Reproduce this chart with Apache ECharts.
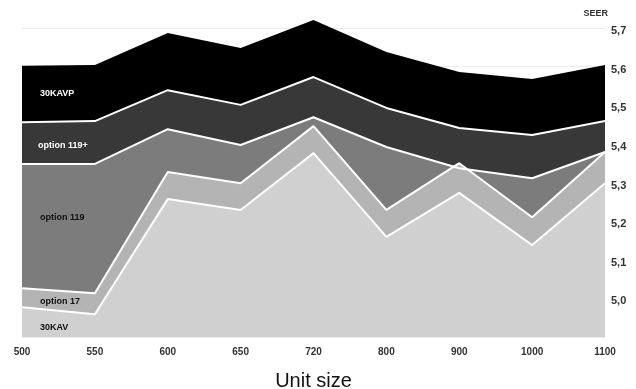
<!DOCTYPE html>
<html>
<head>
<meta charset="utf-8">
<script src="https://cdn.jsdelivr.net/npm/echarts@6/dist/echarts.min.js"></script>
<style>html,body{margin:0;padding:0;background:#fff}#c{width:636px;height:389px}</style>
</head>
<body>
<div id="c"></div>
<script>
// Unit sizes (x categories)
var categories = ['500','550','600','650','720','800','900','1000','1100'];
// Upper boundary (SEER) of each layer
var kav      = [4.977, 4.959, 5.257, 5.229, 5.376, 5.159, 5.273, 5.138, 5.298];
var opt17    = [5.026, 5.013, 5.327, 5.298, 5.446, 5.229, 5.350, 5.210, 5.379];
var opt119   = [5.348, 5.348, 5.438, 5.397, 5.469, 5.392, 5.337, 5.311, 5.379];
var opt119p  = [5.456, 5.459, 5.539, 5.501, 5.573, 5.493, 5.441, 5.423, 5.459];
var kavp     = [5.602, 5.604, 5.687, 5.648, 5.721, 5.638, 5.586, 5.568, 5.604];
var yTicks = [5.0, 5.1, 5.2, 5.3, 5.4, 5.5, 5.6, 5.7];

var FONT = '"Liberation Sans", Arial, sans-serif';
function layer(name, data, color, lineW) {
  return {
    name: name, type: 'line', data: data, symbol: 'none', smooth: false, clip: false,
    lineStyle: { color: '#ffffff', width: lineW },
    areaStyle: { color: color, opacity: 1 },
    emphasis: { disabled: true }
  };
}
var chart = echarts.init(document.getElementById('c'), null, { renderer: 'canvas' });
chart.setOption({
  animation: false,
  textStyle: { fontFamily: FONT },
  grid: { left: 22, right: 31, top: 28, bottom: 52, containLabel: false, outerBoundsMode: 'none' },
  xAxis: {
    type: 'category', data: categories, boundaryGap: false,
    name: 'Unit size', nameLocation: 'middle', nameGap: 34,
    nameTextStyle: { fontSize: 20, color: '#111', fontFamily: FONT },
    axisLine: { show: false }, axisTick: { show: false },
    axisLabel: { fontSize: 10, fontWeight: 'bold', color: '#333', margin: 10, fontFamily: FONT },
    splitLine: { show: false }
  },
  yAxis: {
    type: 'value', position: 'right', min: 4.9, max: 5.7, interval: 0.1,
    name: 'SEER', nameLocation: 'end', nameGap: 10,
    nameTextStyle: { fontSize: 9, fontWeight: 'bold', color: '#333', align: 'right', padding: [0, -3, 0, 0], fontFamily: FONT },
    axisLine: { show: false }, axisTick: { show: false },
    axisLabel: {
      fontSize: 11, fontWeight: 'bold', color: '#333', margin: 6, fontFamily: FONT,
      verticalAlign: 'top', lineHeight: 6,
      formatter: function (v) {
        for (var i = 0; i < yTicks.length; i++) {
          if (Math.abs(yTicks[i] - v) < 1e-6) return yTicks[i].toFixed(1).replace('.', ',');
        }
        return '';
      }
    },
    splitLine: { show: true, lineStyle: { color: '#ececec', width: 1 } }
  },
  series: [
    layer('30KAVP', kavp, '#000000', 0),
    layer('option 119+', opt119p, '#383838', 2),
    layer('option 119', opt119, '#7c7c7c', 2),
    layer('option 17', opt17, '#b4b4b4', 2),
    layer('30KAV', kav, '#d0d0d0', 2)
  ],
  graphic: [
    { type: 'text', z: 100, left: 40, top: 89, style: { text: '30KAVP', fill: '#fff', font: 'bold 9px ' + FONT } },
    { type: 'text', z: 100, left: 38, top: 141, style: { text: 'option 119+', fill: '#fff', font: 'bold 9px ' + FONT } },
    { type: 'text', z: 100, left: 40, top: 213, style: { text: 'option 119', fill: '#111', font: 'bold 9px ' + FONT } },
    { type: 'text', z: 100, left: 40, top: 297, style: { text: 'option 17', fill: '#111', font: 'bold 9px ' + FONT } },
    { type: 'text', z: 100, left: 40, top: 323, style: { text: '30KAV', fill: '#111', font: 'bold 9px ' + FONT } }
  ]
});
</script>
</body>
</html>
